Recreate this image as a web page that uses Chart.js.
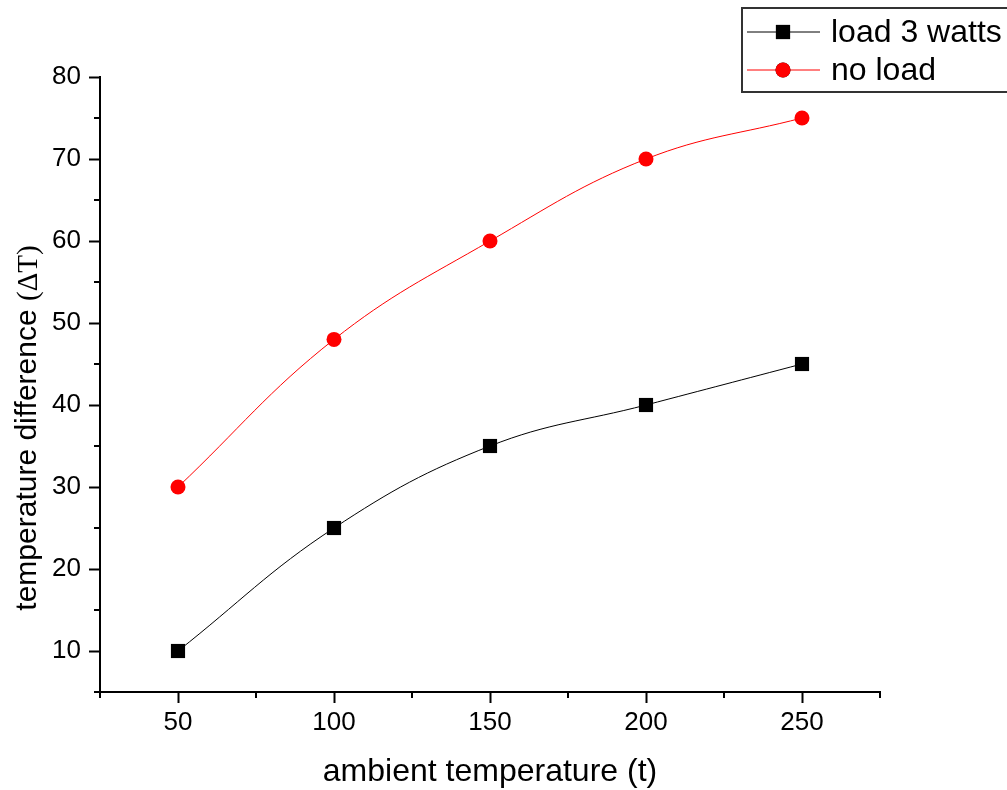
<!DOCTYPE html>
<html>
<head>
<meta charset="utf-8">
<script src="https://cdn.jsdelivr.net/npm/chart.js@4.4.1/dist/chart.umd.min.js"></script>
<style>
  html, body { margin: 0; padding: 0; background: #fff; }
  #wrap { width: 1007px; height: 790px; }
</style>
</head>
<body>
<div id="wrap"><canvas id="chart" width="1007" height="790"></canvas></div>
<script>
// data
var xValues = [50, 100, 150, 200, 250];
var loadValues = [10, 25, 35, 40, 45];
var noLoadValues = [30, 48, 60, 70, 75];

var xTicks = [50, 100, 150, 200, 250];
var xMinorTicks = [25, 75, 125, 175, 225, 275];
var yTicks = [10, 20, 30, 40, 50, 60, 70, 80];
var yMinorTicks = [5, 15, 25, 35, 45, 55, 65, 75];

var FONT = 'Liberation Sans, Arial, sans-serif';

function toPoints(values) {
    return values.map(function (v, i) { return { x: xValues[i], y: v }; });
}

// small ticks between the labelled ones
var minorTicks = {
    id: 'minorTicks',
    afterDraw: function (chart) {
        var ctx = chart.ctx;
        var xs = chart.scales.x, ys = chart.scales.y;
        ctx.save();
        ctx.strokeStyle = '#000';
        ctx.lineWidth = 2;
        ctx.beginPath();
        xMinorTicks.forEach(function (v) {
            var px = Math.round(xs.getPixelForValue(v));
            ctx.moveTo(px, xs.top);
            ctx.lineTo(px, xs.top + 6);
        });
        yMinorTicks.forEach(function (v) {
            var py = Math.round(ys.getPixelForValue(v));
            ctx.moveTo(ys.right, py);
            ctx.lineTo(ys.right - 6, py);
        });
        ctx.stroke();
        ctx.restore();
    }
};

// y title with the delta part in a serif face
var yTitle = {
    id: 'yTitle',
    afterDraw: function (chart) {
        var ctx = chart.ctx;
        var partA = 'temperature difference ';
        var partB = '(\u0394T)';
        var serif = '29px "Liberation Serif", "Times New Roman", serif';
        ctx.save();
        ctx.fillStyle = '#000';
        ctx.textBaseline = 'middle';
        ctx.font = '30px ' + FONT;
        var wA = ctx.measureText(partA).width;
        ctx.font = serif;
        var wB = ctx.measureText(partB).width;
        ctx.translate(28, 428);
        ctx.rotate(-Math.PI / 2);
        var start = -(wA + wB) / 2;
        ctx.textAlign = 'left';
        ctx.font = '30px ' + FONT;
        ctx.fillText(partA, start, 0);
        ctx.font = serif;
        ctx.fillText(partB, start + wA, 1);
        ctx.restore();
    }
};

// boxed legend in the top right corner
var boxLegend = {
    id: 'boxLegend',
    afterDraw: function (chart) {
        var ctx = chart.ctx;
        var left = 742, top = 8, right = 1014, bottom = 92;
        ctx.save();
        ctx.strokeStyle = '#333';
        ctx.lineWidth = 2;
        ctx.strokeRect(left, top, right - left, bottom - top);
        var rows = [32, 70];
        chart.data.datasets.forEach(function (ds, i) {
            var y = rows[i];
            ctx.strokeStyle = ds.borderColor;
            ctx.lineWidth = 1;
            ctx.beginPath();
            ctx.moveTo(747, y);
            ctx.lineTo(820, y);
            ctx.stroke();
            Chart.helpers.drawPoint(ctx, {
                pointStyle: ds.pointStyle,
                radius: ds.pointRadius,
                borderWidth: 0
            }, 783, y);
            ctx.fillStyle = ds.pointBackgroundColor;
            ctx.fill();
            ctx.fillStyle = '#000';
            ctx.font = '32px ' + FONT;
            ctx.textBaseline = 'middle';
            ctx.textAlign = 'left';
            ctx.fillText(ds.label, 831, y + 1);
        });
        ctx.restore();
    }
};

var ctx = document.getElementById('chart');
var myChart = new Chart(ctx, {
    type: 'line',
    data: {
        datasets: [
            {
                label: 'load 3 watts', data: toPoints(loadValues),
                borderColor: '#000', borderWidth: 1,
                pointStyle: 'rect', pointRadius: 10,
                pointBackgroundColor: '#000', pointBorderWidth: 0,
                tension: 0.4
            },
            {
                label: 'no load', data: toPoints(noLoadValues),
                borderColor: '#ff0000', borderWidth: 1,
                pointStyle: 'circle', pointRadius: 7.5,
                pointBackgroundColor: '#ff0000', pointBorderWidth: 0,
                tension: 0.4
            }
        ]
    },
    options: {
        responsive: false,
        animation: false,
        events: [],
        layout: { padding: { left: 0, right: 127, top: 77, bottom: 0 } },
        plugins: {
            legend: { display: false },
            tooltip: { enabled: false }
        },
        scales: {
            x: {
                type: 'linear', min: 25, max: 275,
                afterBuildTicks: function (scale) {
                    scale.ticks = xTicks.map(function (v) { return { value: v }; });
                },
                afterFit: function (scale) { scale.height = 98; },
                grid: {
                    drawOnChartArea: false, drawTicks: true,
                    tickLength: 11, tickWidth: 2, tickColor: '#000'
                },
                border: { display: true, color: '#000', width: 2 },
                ticks: {
                    color: '#000', padding: 4,
                    font: { family: FONT, size: 26 }
                },
                title: {
                    display: true, text: 'ambient temperature (t)', color: '#000',
                    padding: 0, font: { family: FONT, size: 32, lineHeight: 1.1 }
                }
            },
            y: {
                type: 'linear', min: 5, max: 80,
                afterBuildTicks: function (scale) {
                    scale.ticks = yTicks.map(function (v) { return { value: v }; });
                },
                afterFit: function (scale) { scale.width = 100; },
                grid: {
                    drawOnChartArea: false, drawTicks: true,
                    tickLength: 11, tickWidth: 2, tickColor: '#000'
                },
                border: { display: true, color: '#000', width: 2 },
                ticks: {
                    color: '#000', padding: 8,
                    font: { family: FONT, size: 26 }
                }
            }
        }
    },
    plugins: [minorTicks, yTitle, boxLegend]
});
</script>
</body>
</html>
